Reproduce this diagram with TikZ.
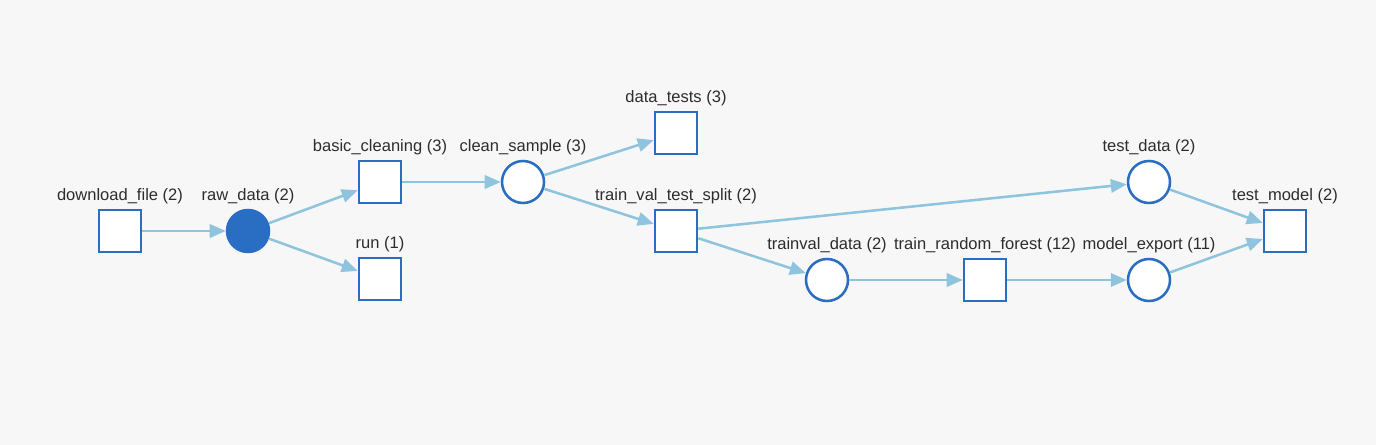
\documentclass[tikz,border=0pt]{standalone}
\usepackage{fontspec}
\setmainfont{Liberation Sans}
\usetikzlibrary{arrows.meta}
\definecolor{nodeblue}{RGB}{42,110,195}
\definecolor{edgeblue}{RGB}{142,196,222}
\definecolor{labelgray}{RGB}{45,45,45}
\definecolor{bggray}{RGB}{247,247,247}
\begin{document}
\begin{tikzpicture}[
    x=0.75pt, y=-0.75pt,
    arrowstyle/.style={draw=edgeblue, line width=1.9pt,
        -{Triangle[length=12pt, width=10pt]}},
    stepbox/.style={rectangle, draw=nodeblue, fill=white, line width=1.9pt,
        minimum size=31.5pt, inner sep=0pt},
    artifact/.style={circle, draw=nodeblue, fill=white, line width=1.9pt,
        minimum size=31.5pt, inner sep=0pt},
    used/.style={artifact, fill=nodeblue},
    every label/.style={font=\fontsize{12.4}{14}\selectfont, text=labelgray,
        inner sep=0pt},
    label distance=3.4pt
]
\fill[bggray] (0,0) rectangle (1376,445);
\useasboundingbox (0,0) rectangle (1376,445);

\node (DownloadFile) [stepbox, label=above:{download\_file (2)}] at (120,231) {};
\node (RawData) [used, label=above:{raw\_data (2)}] at (248,231) {};
\node (BasicCleaning) [stepbox, label=above:{basic\_cleaning (3)}] at (380,182) {};
\node (Run) [stepbox, label=above:{run (1)}] at (380,279) {};
\node (CleanSample) [artifact, label=above:{clean\_sample (3)}] at (523,182) {};
\node (DataTests) [stepbox, label=above:{data\_tests (3)}] at (676,133) {};
\node (TrainValTestSplit) [stepbox, label=above:{train\_val\_test\_split (2)}] at (676,231) {};
\node (TestData) [artifact, label=above:{test\_data (2)}] at (1149,182) {};
\node (TrainvalData) [artifact, label=above:{trainval\_data (2)}] at (827,280) {};
\node (TrainRandomForest) [stepbox, label=above:{train\_random\_forest (12)}] at (985,280) {};
\node (ModelExport) [artifact, label=above:{model\_export (11)}] at (1149,280) {};
\node (TestModel) [stepbox, label=above:{test\_model (2)}] at (1285,231) {};

\draw[arrowstyle] (DownloadFile) -- (RawData);
\draw[arrowstyle] (RawData) -- (BasicCleaning);
\draw[arrowstyle] (RawData) -- (Run);
\draw[arrowstyle] (BasicCleaning) -- (CleanSample);
\draw[arrowstyle] (CleanSample) -- (DataTests);
\draw[arrowstyle] (CleanSample) -- (TrainValTestSplit);
\draw[arrowstyle] (TrainValTestSplit) -- (TestData);
\draw[arrowstyle] (TrainValTestSplit) -- (TrainvalData);
\draw[arrowstyle] (TrainvalData) -- (TrainRandomForest);
\draw[arrowstyle] (TrainRandomForest) -- (ModelExport);
\draw[arrowstyle] (TestData) -- (TestModel);
\draw[arrowstyle] (ModelExport) -- (TestModel);

\end{tikzpicture}
\end{document}
